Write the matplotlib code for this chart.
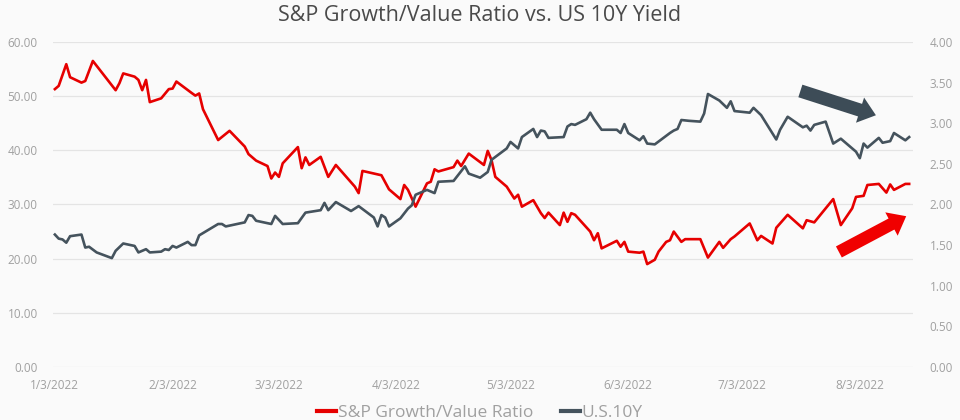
import numpy as np
import pandas as pd
import matplotlib
matplotlib.use("Agg")
import matplotlib.pyplot as plt

plt.rcParams['font.family'] = ['Open Sans', 'DejaVu Sans']

# S&P growth/value ratio (left axis)
ratio_dates = [
    "2022-01-03", "2022-01-04", "2022-01-06", "2022-01-07", "2022-01-10", "2022-01-11",
    "2022-01-13", "2022-01-19", "2022-01-20", "2022-01-21", "2022-01-24", "2022-01-25",
    "2022-01-26", "2022-01-27", "2022-01-28", "2022-01-31", "2022-02-02", "2022-02-03",
    "2022-02-04", "2022-02-08", "2022-02-09", "2022-02-10", "2022-02-11", "2022-02-15",
    "2022-02-18", "2022-02-22", "2022-02-23", "2022-02-25", "2022-02-28", "2022-03-01",
    "2022-03-02", "2022-03-03", "2022-03-04", "2022-03-08", "2022-03-09", "2022-03-10",
    "2022-03-11", "2022-03-14", "2022-03-16", "2022-03-18", "2022-03-23", "2022-03-24",
    "2022-03-25", "2022-03-30", "2022-04-01", "2022-04-04", "2022-04-05", "2022-04-06",
    "2022-04-08", "2022-04-11", "2022-04-12", "2022-04-13", "2022-04-14", "2022-04-18",
    "2022-04-19", "2022-04-20", "2022-04-22", "2022-04-26", "2022-04-27", "2022-04-28",
    "2022-04-29", "2022-05-02", "2022-05-04", "2022-05-05", "2022-05-06", "2022-05-09",
    "2022-05-11", "2022-05-12", "2022-05-13", "2022-05-16", "2022-05-17", "2022-05-18",
    "2022-05-19", "2022-05-20", "2022-05-24", "2022-05-25", "2022-05-26", "2022-05-27",
    "2022-05-31", "2022-06-01", "2022-06-02", "2022-06-03", "2022-06-06", "2022-06-07",
    "2022-06-08", "2022-06-10", "2022-06-11", "2022-06-13", "2022-06-14", "2022-06-15",
    "2022-06-17", "2022-06-18", "2022-06-22", "2022-06-24", "2022-06-27", "2022-06-28",
    "2022-06-30", "2022-07-01", "2022-07-05", "2022-07-07", "2022-07-08", "2022-07-11",
    "2022-07-12", "2022-07-15", "2022-07-19", "2022-07-20", "2022-07-22", "2022-07-27",
    "2022-07-29", "2022-08-01", "2022-08-02", "2022-08-04", "2022-08-05", "2022-08-08",
    "2022-08-10", "2022-08-11", "2022-08-12", "2022-08-15", "2022-08-16",
]
ratio_values = [
    51.3, 51.9, 55.9, 53.5, 52.5, 52.8,
    56.5, 51.1, 52.4, 54.2, 53.6, 53.0,
    51.1, 53.0, 48.9, 49.6, 51.3, 51.4,
    52.7, 50.6, 50.1, 50.5, 47.6, 41.9,
    43.6, 40.7, 39.3, 38.1, 37.1, 34.8,
    35.9, 35.1, 37.6, 40.6, 36.7, 38.7,
    37.3, 38.8, 35.1, 37.3, 33.3, 32.1,
    36.2, 35.4, 32.8, 31.0, 33.6, 32.7,
    29.6, 33.9, 34.2, 36.5, 36.1, 36.9,
    38.1, 37.1, 39.4, 37.3, 39.9, 38.2,
    35.1, 33.3, 31.1, 31.8, 29.6, 30.8,
    28.4, 27.5, 28.5, 26.2, 28.5, 26.8,
    28.4, 28.1, 25.0, 23.4, 24.7, 21.9,
    23.3, 22.2, 23.1, 21.3, 21.1, 21.3,
    19.0, 19.8, 21.3, 23.1, 23.4, 25.0,
    23.1, 23.6, 23.6, 20.2, 23.1, 22.0,
    23.6, 24.1, 26.5, 23.4, 24.2, 22.8,
    25.7, 28.1, 25.6, 27.1, 26.7, 31.0,
    26.2, 29.3, 31.4, 31.6, 33.6, 33.8,
    32.2, 33.7, 32.7, 33.8, 33.8,
]

# US 10Y yield (right axis)
yield_dates = [
    "2022-01-03", "2022-01-04", "2022-01-05", "2022-01-06", "2022-01-07", "2022-01-10",
    "2022-01-11", "2022-01-12", "2022-01-14", "2022-01-18", "2022-01-19", "2022-01-21",
    "2022-01-24", "2022-01-25", "2022-01-27", "2022-01-28", "2022-01-31", "2022-02-01",
    "2022-02-02", "2022-02-03", "2022-02-04", "2022-02-07", "2022-02-08", "2022-02-09",
    "2022-02-10", "2022-02-15", "2022-02-16", "2022-02-17", "2022-02-22", "2022-02-23",
    "2022-02-24", "2022-02-25", "2022-03-01", "2022-03-02", "2022-03-04", "2022-03-08",
    "2022-03-10", "2022-03-14", "2022-03-15", "2022-03-16", "2022-03-18", "2022-03-22",
    "2022-03-24", "2022-03-28", "2022-03-29", "2022-03-30", "2022-03-31", "2022-04-01",
    "2022-04-04", "2022-04-06", "2022-04-07", "2022-04-08", "2022-04-11", "2022-04-13",
    "2022-04-14", "2022-04-18", "2022-04-21", "2022-04-22", "2022-04-25", "2022-04-27",
    "2022-04-28", "2022-05-02", "2022-05-03", "2022-05-05", "2022-05-06", "2022-05-09",
    "2022-05-10", "2022-05-11", "2022-05-12", "2022-05-13", "2022-05-17", "2022-05-18",
    "2022-05-19", "2022-05-20", "2022-05-23", "2022-05-24", "2022-05-25", "2022-05-27",
    "2022-05-31", "2022-06-01", "2022-06-02", "2022-06-03", "2022-06-06", "2022-06-07",
    "2022-06-08", "2022-06-10", "2022-06-14", "2022-06-15", "2022-06-16", "2022-06-17",
    "2022-06-19", "2022-06-22", "2022-06-23", "2022-06-24", "2022-06-27", "2022-06-29",
    "2022-06-30", "2022-07-01", "2022-07-05", "2022-07-06", "2022-07-08", "2022-07-12",
    "2022-07-13", "2022-07-15", "2022-07-19", "2022-07-20", "2022-07-21", "2022-07-22",
    "2022-07-25", "2022-07-27", "2022-07-29", "2022-08-02", "2022-08-03", "2022-08-04",
    "2022-08-05", "2022-08-08", "2022-08-09", "2022-08-11", "2022-08-12", "2022-08-15",
    "2022-08-16",
]
yield_values = [
    1.63, 1.58, 1.57, 1.53, 1.61, 1.63,
    1.47, 1.48, 1.41, 1.34, 1.43, 1.52,
    1.49, 1.41, 1.45, 1.41, 1.42, 1.45,
    1.44, 1.49, 1.47, 1.54, 1.50, 1.50,
    1.62, 1.76, 1.76, 1.73, 1.78, 1.87,
    1.86, 1.80, 1.76, 1.86, 1.76, 1.77,
    1.90, 1.93, 2.02, 1.93, 2.03, 1.92,
    1.98, 1.84, 1.73, 1.87, 1.84, 1.73,
    1.83, 1.95, 1.99, 2.12, 2.18, 2.14,
    2.28, 2.29, 2.47, 2.38, 2.33, 2.40,
    2.55, 2.69, 2.77, 2.69, 2.83, 2.93,
    2.83, 2.91, 2.90, 2.82, 2.83, 2.96,
    2.99, 2.98, 3.05, 3.13, 3.05, 2.92,
    2.92, 2.88, 2.99, 2.88, 2.79, 2.84,
    2.75, 2.74, 2.88, 2.91, 2.93, 3.04,
    3.03, 3.02, 3.12, 3.36, 3.28, 3.19,
    3.27, 3.15, 3.13, 3.19, 3.10, 2.80,
    2.92, 3.08, 2.95, 2.97, 2.91, 2.98,
    3.02, 2.75, 2.81, 2.65, 2.57, 2.75,
    2.70, 2.82, 2.76, 2.78, 2.88, 2.79,
    2.83,
]

tick_dates = ["2022-01-03", "2022-02-03", "2022-03-03", "2022-04-03",
              "2022-05-03", "2022-06-03", "2022-07-03", "2022-08-03"]
tick_labels = ["1/3/2022", "2/3/2022", "3/3/2022", "4/3/2022",
               "5/3/2022", "6/3/2022", "7/3/2022", "8/3/2022"]

left_ticks = [0, 10, 20, 30, 40, 50, 60]
right_ticks = [0, 0.5, 1.0, 1.5, 2.0, 2.5, 3.0, 3.5, 4.0]

red = '#e60000'
slate = '#45535d'
bg = '#fafafa'
label_col = '#a0a0a0'

fig = plt.figure(figsize=(9.6, 4.2), dpi=100, facecolor=bg)
ax = fig.add_axes([0.0552, 0.1262, 0.8958, 0.7738])
ax.set_facecolor(bg)
ax2 = ax.twinx()

ax.plot(pd.to_datetime(ratio_dates), ratio_values, color=red, lw=1.9,
        label='S&P Growth/Value Ratio', zorder=3)
ax2.plot(pd.to_datetime(yield_dates), yield_values, color=slate, lw=1.9,
         label='U.S.10Y', zorder=3)

ax.set_xlim(pd.Timestamp("2022-01-02 12:00"), pd.Timestamp("2022-08-17"))
ax.set_ylim(0, 60)
ax2.set_ylim(0, 4)
ax.set_yticks(left_ticks)
ax.set_yticklabels([f"{v:.2f}" for v in left_ticks])
ax2.set_yticks(right_ticks)
ax2.set_yticklabels([f"{v:.2f}" for v in right_ticks])
ax.set_xticks(pd.to_datetime(tick_dates))
ax.set_xticklabels(tick_labels)

ax.grid(axis='y', color='#e4e4e4', lw=0.9, zorder=0)
ax.set_axisbelow(True)
for a in (ax, ax2):
    for s in a.spines.values():
        s.set_visible(False)
    a.tick_params(length=0, labelsize=8.5, labelcolor=label_col)
ax.tick_params(axis='y', pad=11)
ax2.tick_params(axis='y', pad=12)
ax.tick_params(axis='x', pad=9)

fig.suptitle('S&P Growth/Value Ratio vs. US 10Y Yield', y=0.988, fontsize=15.5,
             color='#4a4a4a')

# trend arrows
ax2.annotate('', xy=(0.960, 0.772), xytext=(0.866, 0.852), xycoords='axes fraction',
             arrowprops=dict(arrowstyle='simple,head_width=19,head_length=12,tail_width=9.5',
                             mutation_scale=1, color='#3d4c57', lw=0))
ax2.annotate('', xy=(0.995, 0.468), xytext=(0.911, 0.350), xycoords='axes fraction',
             arrowprops=dict(arrowstyle='simple,head_width=19,head_length=12,tail_width=9',
                             mutation_scale=1, color='#f00000', lw=0))

h1, l1 = ax.get_legend_handles_labels()
h2, l2 = ax2.get_legend_handles_labels()
leg = fig.legend(h1 + h2, l1 + l2, loc='lower center', bbox_to_anchor=(0.5, -0.04),
                 ncol=2, frameon=False, fontsize=12.5, handlelength=1.1,
                 handletextpad=0.1, columnspacing=1.6)
for t in leg.get_texts():
    t.set_color(label_col)
for ln in leg.get_lines():
    ln.set_linewidth(3)

fig.savefig('out.png', dpi=100, facecolor=bg)
